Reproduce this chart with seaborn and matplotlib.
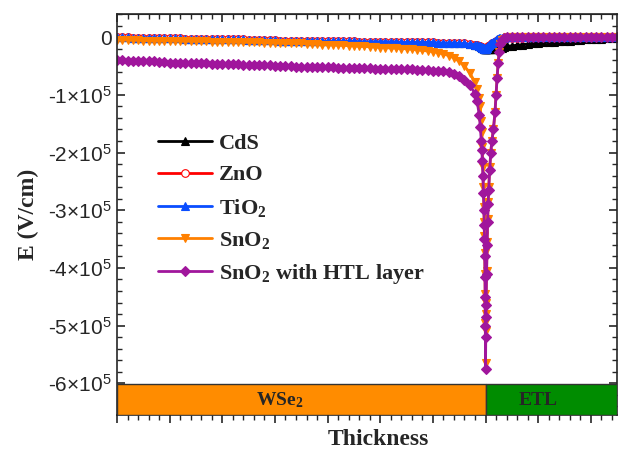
import numpy as np
import matplotlib
matplotlib.use('Agg')
import matplotlib.pyplot as plt
import seaborn as sns
from matplotlib.patches import Rectangle
from matplotlib.ticker import FixedLocator, AutoMinorLocator, FuncFormatter, NullFormatter

# thickness grid (um) - WSe2 absorber 0..0.70, ETL 0.70..0.95
x_wse2 = [0.00, 0.01, 0.02, 0.03, 0.04, 0.05, 0.06, 0.07, 0.08, 0.09,
          0.10, 0.11, 0.12, 0.13, 0.14, 0.15, 0.16, 0.17, 0.18, 0.19,
          0.20, 0.21, 0.22, 0.23, 0.24, 0.25, 0.26, 0.27, 0.28, 0.29,
          0.30, 0.31, 0.32, 0.33, 0.34, 0.35, 0.36, 0.37, 0.38, 0.39,
          0.40, 0.41, 0.42, 0.43, 0.44, 0.45, 0.46, 0.47, 0.48, 0.49,
          0.50, 0.51, 0.52, 0.53, 0.54, 0.55, 0.56, 0.57, 0.58, 0.59, 0.60,
          0.61, 0.62, 0.63, 0.64, 0.65, 0.66, 0.67, 0.68,
          0.684, 0.688, 0.690, 0.692, 0.693, 0.694, 0.695, 0.696,
          0.697, 0.6975, 0.698, 0.6985, 0.699, 0.6993, 0.6996, 0.700]
x_etl = [0.7004, 0.7008, 0.701, 0.702, 0.703, 0.704, 0.705, 0.706, 0.708, 0.710,
         0.712, 0.715, 0.718, 0.720, 0.722, 0.724, 0.726, 0.728, 0.732, 0.735, 0.740,
         0.75, 0.76, 0.77, 0.78, 0.79, 0.80, 0.81, 0.82, 0.83, 0.84,
         0.85, 0.86, 0.87, 0.88, 0.89, 0.90, 0.91, 0.92, 0.93, 0.94, 0.95]

# electric field, in units of 1e5 V/cm
tio2 = [0.00, 0.00, 0.00, -0.01, -0.01, -0.01, -0.01, -0.01, -0.02, -0.02,
        -0.02, -0.02, -0.02, -0.03, -0.03, -0.03, -0.03, -0.03, -0.03, -0.04,
        -0.04, -0.04, -0.04, -0.04, -0.04, -0.05, -0.05, -0.05, -0.05, -0.05,
        -0.05, -0.06, -0.06, -0.06, -0.06, -0.06, -0.06, -0.06, -0.07, -0.07,
        -0.07, -0.07, -0.07, -0.07, -0.07, -0.07, -0.08, -0.08, -0.08, -0.08,
        -0.08, -0.08, -0.08, -0.08, -0.09, -0.09, -0.09, -0.09, -0.09, -0.09, -0.09,
        -0.10, -0.10, -0.10, -0.10, -0.11, -0.11, -0.12, -0.13,
        -0.14, -0.15, -0.16, -0.17, -0.17, -0.18, -0.18, -0.19,
        -0.19, -0.19, -0.20, -0.20, -0.20, -0.20, -0.20, -0.20,
        -0.20, -0.19, -0.19, -0.18, -0.17, -0.16, -0.15, -0.14, -0.12, -0.11,
        -0.10, -0.08, -0.06, -0.05, -0.04, -0.03, -0.02, -0.02, -0.01, -0.01, 0.00,
        0.00, 0.00, 0.00, 0.00, 0.00, 0.00, 0.00, 0.00, 0.00, 0.00,
        0.00, 0.01, 0.01, 0.01, 0.01, 0.01, 0.01, 0.01, 0.01, 0.01, 0.01]

zno = [0.00, 0.00, 0.00, -0.01, -0.01, -0.01, -0.01, -0.01, -0.02, -0.02,
       -0.02, -0.02, -0.02, -0.03, -0.03, -0.03, -0.03, -0.03, -0.03, -0.04,
       -0.04, -0.04, -0.04, -0.04, -0.04, -0.05, -0.05, -0.05, -0.05, -0.05,
       -0.05, -0.06, -0.06, -0.06, -0.06, -0.06, -0.06, -0.06, -0.07, -0.07,
       -0.07, -0.07, -0.07, -0.07, -0.07, -0.07, -0.08, -0.08, -0.08, -0.08,
       -0.08, -0.08, -0.08, -0.08, -0.09, -0.09, -0.09, -0.09, -0.09, -0.09, -0.09,
       -0.10, -0.10, -0.10, -0.10, -0.11, -0.11, -0.12, -0.13,
       -0.14, -0.15, -0.16, -0.17, -0.17, -0.18, -0.18, -0.19,
       -0.19, -0.19, -0.20, -0.20, -0.20, -0.20, -0.20, -0.20,
       -0.20, -0.19, -0.19, -0.18, -0.18, -0.17, -0.16, -0.16, -0.14, -0.13,
       -0.11, -0.10, -0.08, -0.07, -0.06, -0.05, -0.04, -0.04, -0.03, -0.03, -0.02,
       -0.01, -0.01, -0.01, 0.00, 0.00, 0.00, 0.00, 0.00, 0.00, 0.00,
       0.00, 0.00, 0.00, 0.01, 0.01, 0.01, 0.01, 0.01, 0.01, 0.01, 0.01]

cds = [0.00, 0.00, 0.00, -0.01, -0.01, -0.01, -0.01, -0.01, -0.02, -0.02,
       -0.02, -0.02, -0.02, -0.03, -0.03, -0.03, -0.03, -0.03, -0.03, -0.04,
       -0.04, -0.04, -0.04, -0.04, -0.04, -0.05, -0.05, -0.05, -0.05, -0.05,
       -0.05, -0.06, -0.06, -0.06, -0.06, -0.06, -0.06, -0.06, -0.07, -0.07,
       -0.07, -0.07, -0.07, -0.07, -0.07, -0.07, -0.08, -0.08, -0.08, -0.08,
       -0.08, -0.08, -0.08, -0.08, -0.09, -0.09, -0.09, -0.09, -0.09, -0.09, -0.09,
       -0.10, -0.10, -0.10, -0.10, -0.11, -0.11, -0.12, -0.13,
       -0.14, -0.15, -0.16, -0.17, -0.17, -0.18, -0.18, -0.19,
       -0.19, -0.19, -0.20, -0.20, -0.20, -0.20, -0.20, -0.20,
       -0.20, -0.21, -0.21, -0.21, -0.21, -0.21, -0.21, -0.21, -0.21, -0.21,
       -0.20, -0.20, -0.20, -0.20, -0.19, -0.19, -0.19, -0.18, -0.18, -0.17, -0.16,
       -0.15, -0.14, -0.13, -0.12, -0.11, -0.10, -0.09, -0.08, -0.08, -0.07,
       -0.06, -0.06, -0.05, -0.05, -0.04, -0.04, -0.03, -0.03, -0.02, -0.02, -0.01]

sno2 = [-0.05, -0.05, -0.05, -0.05, -0.05, -0.06, -0.06, -0.06, -0.06, -0.06,
        -0.06, -0.06, -0.06, -0.07, -0.07, -0.07, -0.07, -0.07, -0.08, -0.08,
        -0.08, -0.08, -0.08, -0.08, -0.09, -0.09, -0.09, -0.09, -0.10, -0.10,
        -0.10, -0.10, -0.11, -0.11, -0.11, -0.11, -0.12, -0.12, -0.12, -0.13,
        -0.13, -0.13, -0.14, -0.14, -0.15, -0.15, -0.16, -0.16, -0.17, -0.17,
        -0.18, -0.18, -0.19, -0.19, -0.20, -0.20, -0.21, -0.22, -0.23, -0.24, -0.25,
        -0.27, -0.29, -0.32, -0.36, -0.42, -0.50, -0.62, -0.78,
        -0.90, -1.05, -1.20, -1.45, -1.65, -1.90, -2.25, -2.60,
        -2.95, -3.20, -3.45, -3.75, -4.10, -4.45, -4.95, -5.65,
        -5.10, -4.80, -4.60, -4.05, -3.55, -3.15, -2.85, -2.60, -2.25, -2.00,
        -1.80, -1.60, -1.30, -1.00, -0.70, -0.45, -0.25, -0.12, -0.05, -0.03, 0.00,
        0.01, 0.01, 0.01, 0.01, 0.01, 0.01, 0.01, 0.01, 0.01, 0.01,
        0.01, 0.01, 0.01, 0.01, 0.01, 0.01, 0.01, 0.01, 0.01, 0.01, 0.01]

sno2_htl = [-0.40, -0.40, -0.41, -0.41, -0.41, -0.42, -0.42, -0.42, -0.43, -0.43,
            -0.44, -0.44, -0.44, -0.44, -0.45, -0.45, -0.45, -0.45, -0.46, -0.46,
            -0.47, -0.47, -0.47, -0.47, -0.48, -0.48, -0.48, -0.49, -0.49, -0.49,
            -0.50, -0.50, -0.50, -0.50, -0.51, -0.51, -0.51, -0.51, -0.52, -0.52,
            -0.52, -0.52, -0.53, -0.53, -0.53, -0.53, -0.54, -0.54, -0.54, -0.55,
            -0.55, -0.55, -0.55, -0.56, -0.56, -0.56, -0.56, -0.57, -0.57, -0.57, -0.58,
            -0.58, -0.59, -0.61, -0.64, -0.68, -0.74, -0.83, -0.98,
            -1.10, -1.35, -1.55, -1.80, -1.95, -2.15, -2.40, -2.70,
            -3.00, -3.25, -3.50, -3.80, -4.15, -4.50, -5.00, -5.75,
            -5.20, -4.85, -4.65, -4.10, -3.60, -3.20, -2.90, -2.65, -2.30, -2.00,
            -1.80, -1.60, -1.30, -1.00, -0.70, -0.45, -0.25, -0.12, -0.05, -0.02, 0.01,
            0.01, 0.01, 0.01, 0.01, 0.01, 0.01, 0.01, 0.01, 0.01, 0.01,
            0.01, 0.01, 0.01, 0.01, 0.01, 0.01, 0.01, 0.01, 0.01, 0.01, 0.01]

series = [('CdS', cds, 'black', '^', 'black'),
          ('ZnO', zno, '#ff0000', 'o', 'white'),
          ('TiO$_2$', tio2, '#0a4dff', '^', '#0a4dff'),
          ('SnO$_2$', sno2, '#ff8000', 'v', '#ff8000'),
          ('SnO$_2$ with HTL layer', sno2_htl, '#a0169c', 'D', '#a0169c')]

regions = ['WSe$_2$', 'ETL']
region_bounds = [(0.0, 0.70), (0.70, 0.95)]
region_colors = ['#ff8c00', '#008c00']

sns.set_style('ticks')
plt.rcParams['font.family'] = ['Liberation Sans', 'DejaVu Sans']
plt.rcParams['mathtext.default'] = 'regular'

x = np.array(x_wse2 + x_etl)

fig = plt.figure(figsize=(6.19, 4.49), dpi=100)
ax = fig.add_axes([0.189, 0.0757, 0.808, 0.893])

for name, vals, col, mk, mfc in series:
    sns.lineplot(x=x, y=np.array(vals) * 1e5, ax=ax, color=col, marker=mk,
                 markersize=5.5, markerfacecolor=mfc, markeredgecolor=col,
                 markeredgewidth=0.8, linewidth=2.0, label=name,
                 sort=False, errorbar=None)

ax.set_xlim(0, 0.95)
ax.set_ylim(-6.55e5, 0.40e5)

# layer band at the bottom
for lab, (x0, x1), col in zip(regions, region_bounds, region_colors):
    ax.add_patch(Rectangle((x0, -6.55e5), x1 - x0, 0.53e5, facecolor=col,
                           edgecolor='#333333', linewidth=1.0, zorder=3))
ax.text(0.31, -6.29e5, regions[0], ha='center', va='center', fontsize=14,
        fontweight='bold', family='Liberation Serif', zorder=4)
ax.text(0.80, -6.29e5, regions[1], ha='center', va='center', fontsize=14,
        fontweight='bold', family='Liberation Serif', zorder=4)

ax.yaxis.set_major_locator(FixedLocator([i * 1e5 for i in range(-6, 1)]))
ax.yaxis.set_minor_locator(AutoMinorLocator(5))
ax.yaxis.set_major_formatter(FuncFormatter(
    lambda v, p: '0' if abs(v) < 1 else '%d×10$^{5}$' % round(v / 1e5)))
ax.xaxis.set_major_locator(FixedLocator([i * 0.1 for i in range(0, 10)]))
ax.xaxis.set_minor_locator(AutoMinorLocator(5))
ax.xaxis.set_major_formatter(NullFormatter())

ax.tick_params(axis='y', which='both', direction='in', left=True, right=True,
               labelsize=15, pad=4)
ax.tick_params(axis='x', which='both', direction='out', bottom=True, top=False)
ax.tick_params(which='major', length=6, width=1.2)
ax.tick_params(which='minor', length=3.5, width=1.0)

# top ticks point inward
sec = ax.secondary_xaxis('top')
sec.xaxis.set_major_locator(FixedLocator([i * 0.1 for i in range(0, 10)]))
sec.xaxis.set_minor_locator(AutoMinorLocator(5))
sec.xaxis.set_major_formatter(NullFormatter())
sec.tick_params(which='both', direction='in', labeltop=False)
sec.tick_params(which='major', length=6, width=1.2)
sec.tick_params(which='minor', length=3.5, width=1.0)

for s in ax.spines.values():
    s.set_linewidth(1.2)

ax.set_ylabel('E (V/cm)', fontsize=17, fontweight='bold',
              family='Liberation Serif', labelpad=6)
ax.set_xlabel('Thickness', fontsize=17, fontweight='bold',
              family='Liberation Serif')
ax.xaxis.set_label_coords(0.522, -0.035)

ax.legend(loc='upper left', bbox_to_anchor=(0.064, 0.725), frameon=False,
          prop={'family': 'Liberation Serif', 'weight': 'bold', 'size': 16},
          handlelength=2.45, handletextpad=0.3, labelspacing=0.5,
          borderaxespad=0)

fig.savefig('out.png', dpi=100)
